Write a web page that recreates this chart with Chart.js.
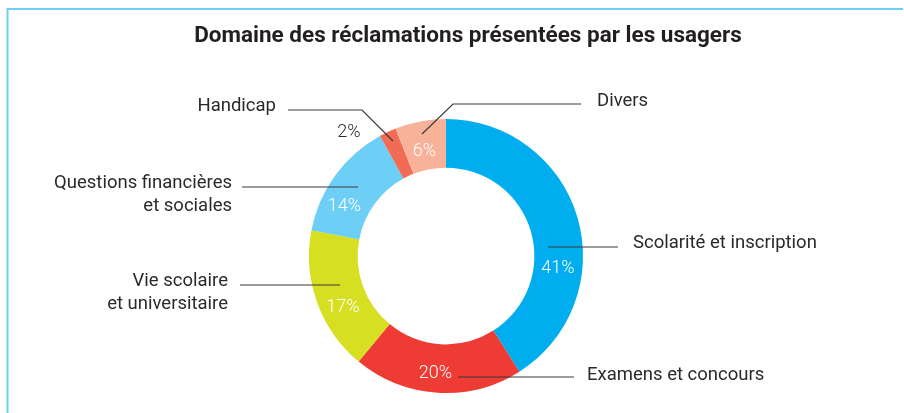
<!DOCTYPE html>
<html>
<head>
<meta charset="utf-8">
<script src="https://cdn.jsdelivr.net/npm/chart.js@4/dist/chart.umd.min.js"></script>
<style>
  html, body { margin: 0; padding: 0; background: #fff; }
  #wrap { width: 904px; height: 413px; }
</style>
</head>
<body>
<div id="wrap"><canvas id="donut" width="904" height="413"></canvas></div>
<script>
// data
const chartTitle = 'Domaine des réclamations présentées par les usagers';
const categories = [
  'Scolarité et inscription',
  'Examens et concours',
  ['Vie scolaire', 'et universitaire'],
  ['Questions financières', 'et sociales'],
  'Handicap',
  'Divers',
];
const shares = [41, 20, 17, 14, 2, 6];
const sliceColors = ['#00AEEF', '#EE3B33', '#D7DF23', '#6DCFF6', '#F26C55', '#F8B29A'];

const FONT = 'Roboto, "Noto Sans", sans-serif';
const TEXT_DARK = '#2b2a29';

// hand placed annotations, offsets from the donut centre
// pct: [x centre, baseline], text: [x, baseline], align, leader: polyline
const annotations = [
  { pct: [112, 17], text: [187, -8], align: 'left', leader: [[102, -9], [172, -9]] },
  { pct: [-10.5, 122], text: [141, 124], align: 'left', leader: [[12, 121], [128, 121]] },
  { pct: [-103, 56], text: [-218, 30], align: 'right', leader: [[-106, 29], [-206, 29]] },
  { pct: [-101.5, -45], text: [-214, -68], align: 'right', leader: [[-88, -69], [-204, -69]] },
  { pct: [-97, -119], pctDark: true, text: [-170, -145], align: 'right', leader: [[-53, -115], [-84, -146], [-158, -146]] },
  { pct: [-21.5, -100], text: [151, -150], align: 'left', leader: [[-24, -122], [7, -152], [135, -152]] },
];

const frame = {
  id: 'frame',
  beforeDraw(chart) {
    const ctx = chart.ctx;
    ctx.save();
    ctx.fillStyle = '#fff';
    ctx.fillRect(0, 0, chart.width, chart.height);
    ctx.strokeStyle = '#6DCFF6';
    ctx.lineWidth = 2;
    ctx.beginPath();
    ctx.moveTo(7.5, chart.height);
    ctx.lineTo(7.5, 9);
    ctx.lineTo(903, 9);
    ctx.stroke();
    // title
    ctx.fillStyle = '#231f20';
    ctx.font = 'bold 22.5px ' + FONT;
    ctx.textAlign = 'center';
    ctx.textBaseline = 'alphabetic';
    ctx.fillText(chartTitle, 468, 42);
    ctx.restore();
  }
};

const callouts = {
  id: 'callouts',
  afterDatasetsDraw(chart) {
    const ctx = chart.ctx;
    const meta = chart.getDatasetMeta(0);
    const cx = meta.data[0].x, cy = meta.data[0].y;
    ctx.save();
    ctx.textBaseline = 'alphabetic';
    annotations.forEach((a, i) => {
      // leader line
      ctx.strokeStyle = '#3a3a3a';
      ctx.lineWidth = 1.2;
      ctx.beginPath();
      a.leader.forEach((p, k) => {
        if (k === 0) ctx.moveTo(cx + p[0], cy + p[1]);
        else ctx.lineTo(cx + p[0], cy + p[1]);
      });
      ctx.stroke();
      // percentage
      ctx.font = '300 18px ' + FONT;
      ctx.textAlign = 'center';
      ctx.fillStyle = a.pctDark ? TEXT_DARK : '#ffffff';
      ctx.fillText(shares[i] + '%', cx + a.pct[0], cy + a.pct[1]);
      // category label
      ctx.font = '18.5px ' + FONT;
      ctx.textAlign = a.align;
      ctx.fillStyle = TEXT_DARK;
      const lines = Array.isArray(categories[i]) ? categories[i] : [categories[i]];
      lines.forEach((t, k) => {
        ctx.fillText(t, cx + a.text[0], cy + a.text[1] + k * 23);
      });
    });
    ctx.restore();
  }
};

new Chart(document.getElementById('donut'), {
  type: 'doughnut',
  data: {
    labels: categories,
    datasets: [{
      data: shares,
      backgroundColor: sliceColors,
      borderWidth: 0,
      hoverOffset: 0,
      offset: 0,
    }],
  },
  options: {
    responsive: false,
    animation: false,
    cutout: '64.5%',
    layout: { padding: { top: 119, left: 309, right: 321, bottom: 20 } },
    plugins: {
      legend: { display: false },
      title: { display: false },
      tooltip: { enabled: false },
    },
  },
  plugins: [frame, callouts],
});
</script>
</body>
</html>
